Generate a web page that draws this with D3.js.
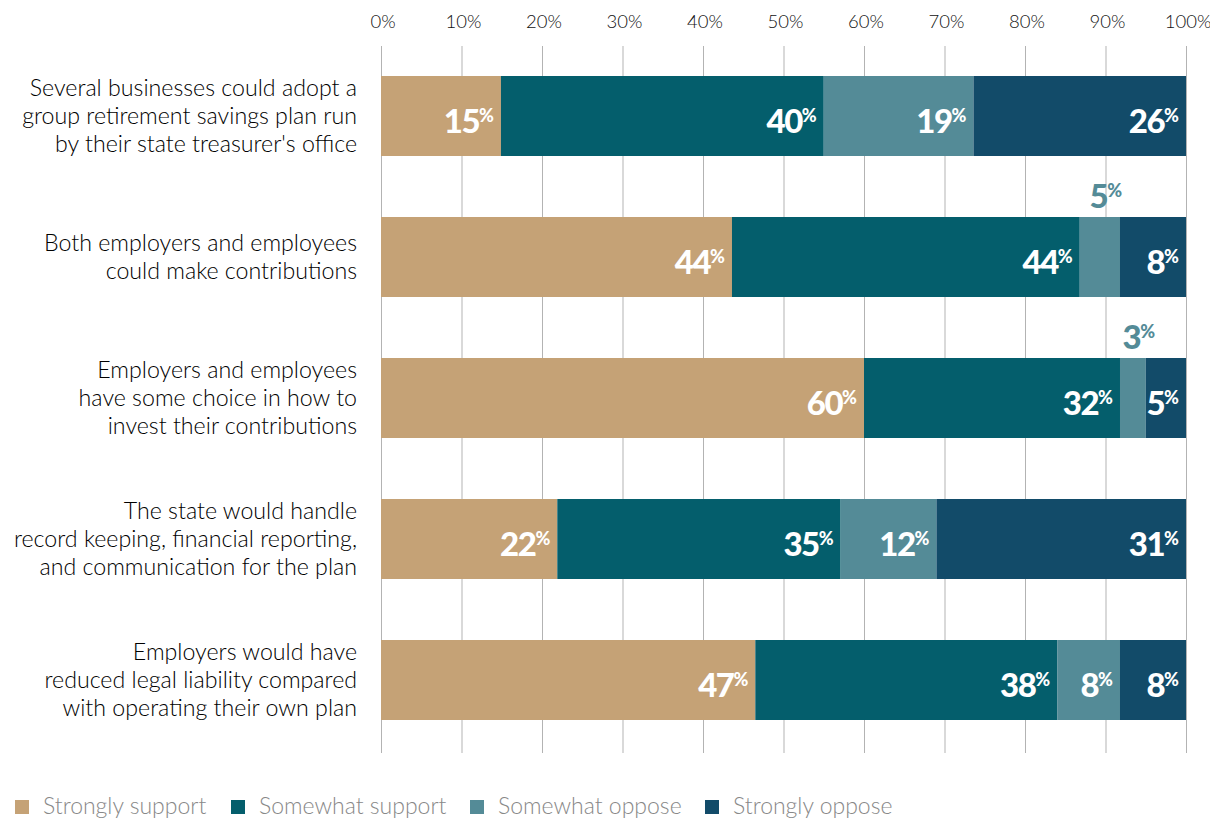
<!DOCTYPE html>
<html><head><meta charset="utf-8">
<script src="https://cdn.jsdelivr.net/npm/d3@7"></script>
<style>
body{margin:0;background:#fff;}
svg{display:block;font-family:Lato,"Open Sans",sans-serif;}
</style></head>
<body><svg id="c" width="1210" height="819"></svg>
<script>
const categories = [
  ["Several businesses could adopt a","group retirement savings plan run","by their state treasurer's office"],
  ["Both employers and employees","could make contributions"],
  ["Employers and employees","have some choice in how to","invest their contributions"],
  ["The state would handle","record keeping, financial reporting,","and communication for the plan"],
  ["Employers would have","reduced legal liability compared","with operating their own plan"]
];
const seriesNames = ["Strongly support","Somewhat support","Somewhat oppose","Strongly oppose"];
const strongSupport = [14.9, 43.6, 60.0, 21.9, 46.5];
const somewhatSupport = [40.1, 43.2, 31.8, 35.2, 37.5];
const somewhatOppose = [18.6, 5.0, 3.2, 11.9, 7.8];
const strongOppose = [26.4, 8.2, 5.0, 31.0, 8.2];
const labelsStrongSupport = [15, 44, 60, 22, 47];
const labelsSomewhatSupport = [40, 44, 32, 35, 38];
const labelsSomewhatOppose = [19, 5, 3, 12, 8];
const labelsStrongOppose = [26, 8, 5, 31, 8];
const tickValues = [0,10,20,30,40,50,60,70,80,90,100];
const colors = ["#C5A276","#045E6C","#548B97","#124B69"];

const values = [strongSupport, somewhatSupport, somewhatOppose, strongOppose];
const labels = [labelsStrongSupport, labelsSomewhatSupport, labelsSomewhatOppose, labelsStrongOppose];

const svg = d3.select("#c");
const x = d3.scaleLinear().domain([0,100]).range([381,1186]);
const ids = categories.map((c,i)=>i);
const pIn = 61/141;
const y = d3.scaleBand().domain(ids).range([45.5,750.5]).paddingInner(pIn).paddingOuter(pIn/2);

// gridlines
svg.append("g").selectAll("line").data(tickValues).join("line")
  .attr("x1",d=>x(d)+0.5).attr("x2",d=>x(d)+0.5)
  .attr("y1",46).attr("y2",753)
  .attr("stroke","#b3b3b3").attr("stroke-width",1);

// top axis
const axis = d3.axisTop(x).tickValues(tickValues).tickFormat(d=>d+"%").tickSize(0).tickPadding(0);
const ag = svg.append("g").attr("transform","translate(1.5,28)").call(axis);
ag.select(".domain").remove();
ag.selectAll("text").attr("font-size",18.5).attr("font-weight",300).attr("fill","#111").attr("font-family","Lato, sans-serif").attr("dy",0);

// stacked
const rows = ids.map(i=>{
  let acc=0;
  return values.map((s,k)=>{const r={row:i,k,x0:acc,x1:acc+s[i],v:s[i],lab:labels[k][i]};acc+=s[i];return r;});
});
const segs = rows.flat();

svg.append("g").selectAll("rect").data(segs).join("rect")
  .attr("x",d=>x(d.x0)).attr("width",d=>x(d.x1)-x(d.x0))
  .attr("y",d=>y(d.row)).attr("height",y.bandwidth())
  .attr("fill",d=>colors[d.k]);

// value labels
const lg = svg.append("g").attr("font-weight",900).attr("font-family","Lato, sans-serif");
segs.forEach(d=>{
  const inside = d.v >= 6 || d.k === values.length-1;
  const t = lg.append("text").attr("font-size",33);
  if(inside){
    t.attr("x",x(d.x1)-7).attr("y",y(d.row)+y.bandwidth()/2+17).attr("text-anchor","end").attr("fill","#fff");
  } else {
    t.attr("x",(x(d.x0)+x(d.x1))/2+6).attr("y",y(d.row)-9).attr("text-anchor","middle").attr("fill",colors[d.k]);
  }
  t.append("tspan").text(d.lab).attr("letter-spacing",-1.5);
  t.append("tspan").text("%").attr("font-size",18).attr("dy",-11);
});

// category labels
const cg = svg.append("g");
categories.forEach((lines,i)=>{
  const cy = y(i)+y.bandwidth()/2;
  const lh = 28;
  const t = cg.append("text").attr("text-anchor","end").attr("font-size",23.2).attr("font-weight",300).attr("fill","#000");
  lines.forEach((l,j)=>{
    t.append("tspan").attr("x",357).attr("y",cy+(j-(lines.length-1)/2)*lh+8).text(l);
  });
});

// legend
const legX = [15,231,470,705];
const leg = svg.append("g");
seriesNames.forEach((n,k)=>{
  leg.append("rect").attr("x",legX[k]).attr("y",800).attr("width",14).attr("height",14).attr("fill",colors[k]);
  leg.append("text").attr("x",legX[k]+28).attr("y",814).attr("font-size",23).attr("font-weight",300).attr("fill","#888").text(n);
});
</script></body></html>
